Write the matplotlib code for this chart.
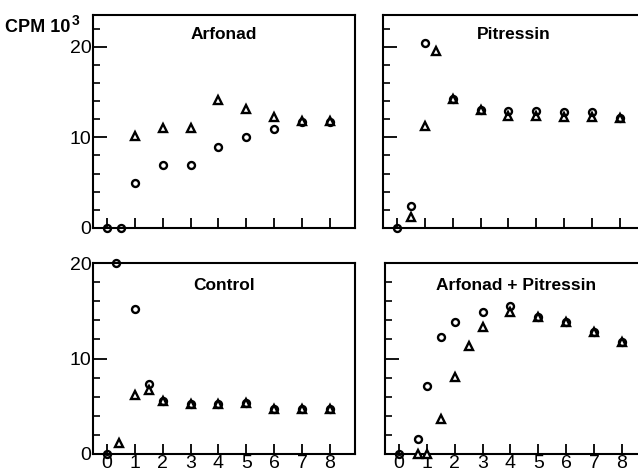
import matplotlib
matplotlib.use("Agg")
import matplotlib.pyplot as plt
from matplotlib.ticker import MultipleLocator

# Arfonad
arf_circ_x = [0, 0.5, 1, 2, 3, 4, 5, 6, 7, 8]
arf_circ_y = [0, 0, 5.0, 7.0, 7.0, 8.9, 10.0, 10.9, 11.7, 11.7]
arf_tri_x = [1, 2, 3, 4, 5, 6, 7, 8]
arf_tri_y = [10.1, 11.0, 11.0, 14.1, 13.1, 12.3, 11.8, 11.8]

# Pitressin
pit_circ_x = [0, 0.5, 1, 2, 3, 4, 5, 6, 7, 8]
pit_circ_y = [0, 2.4, 20.4, 14.2, 13.0, 12.9, 12.9, 12.8, 12.8, 12.1]
pit_tri_x = [0.5, 1, 1.4, 2, 3, 4, 5, 6, 7, 8]
pit_tri_y = [1.2, 11.3, 19.5, 14.2, 13.0, 12.4, 12.4, 12.3, 12.3, 12.1]

# Control
con_circ_x = [0, 0.33, 1, 1.5, 2, 3, 4, 5, 6, 7, 8]
con_circ_y = [0, 20.0, 15.2, 7.3, 5.6, 5.2, 5.2, 5.3, 4.7, 4.7, 4.7]
con_tri_x = [0.45, 1, 1.5, 2, 3, 4, 5, 6, 7, 8]
con_tri_y = [1.2, 6.2, 6.7, 5.6, 5.2, 5.2, 5.3, 4.7, 4.7, 4.7]

# Arfonad + Pitressin
ap_circ_x = [0, 0.7, 1, 1.5, 2, 3, 4, 5, 6, 7, 8]
ap_circ_y = [0, 1.6, 7.1, 12.2, 13.8, 14.9, 15.5, 14.3, 13.8, 12.8, 11.7]
ap_tri_x = [0.7, 1, 1.5, 2, 2.5, 3, 4, 5, 6, 7, 8]
ap_tri_y = [0, 0, 3.7, 8.1, 11.3, 13.3, 14.9, 14.3, 13.8, 12.8, 11.7]

x_labels = ["0", "1", "2", "3", "4", "5", "6", "7", "8"]

plt.rcParams['font.family'] = ['Liberation Sans', 'DejaVu Sans']

W, H = 638, 475
fig = plt.figure(figsize=(6.38, 4.75), dpi=100)

def make_ax(left, top, width, height):
    return fig.add_axes([left / W, (H - top - height) / H, width / W, height / H])

panels = [
    (make_ax(93, 15, 262, 213), arf_circ_x, arf_circ_y, arf_tri_x, arf_tri_y,
     "Arfonad", 23.5, True, False),
    (make_ax(383, 15, 262, 213), pit_circ_x, pit_circ_y, pit_tri_x, pit_tri_y,
     "Pitressin", 23.5, False, False),
    (make_ax(93, 263, 262, 191), con_circ_x, con_circ_y, con_tri_x, con_tri_y,
     "Control", 20, True, True),
    (make_ax(385, 263, 262, 191), ap_circ_x, ap_circ_y, ap_tri_x, ap_tri_y,
     "Arfonad + Pitressin", 20, False, True),
]

for ax, cx, cy, tx, ty, title, ytop, ylab, xlab in panels:
    ax.plot(tx, ty, linestyle="none", marker="^", markersize=6,
            markerfacecolor="white", markeredgecolor="black",
            markeredgewidth=1.7, clip_on=False, zorder=3)
    ax.plot(cx, cy, linestyle="none", marker="o", markersize=5,
            markerfacecolor="none", markeredgecolor="black",
            markeredgewidth=1.7, clip_on=False, zorder=4)
    ax.set_xlim(-0.5, 8.9)
    ax.set_ylim(0, ytop)
    for s in ax.spines.values():
        s.set_linewidth(1.5)
    ax.set_xticks(range(9))
    ax.yaxis.set_major_locator(MultipleLocator(10))
    ax.yaxis.set_minor_locator(MultipleLocator(2))
    ax.tick_params(axis="y", which="major", direction="in", length=10, width=1.3,
                   labelsize=14, pad=1, labelleft=ylab)
    ax.tick_params(axis="y", which="minor", direction="in", length=5, width=1.2)
    ax.tick_params(axis="x", direction="in", length=7, width=1.3,
                   labelsize=14, pad=1, labelbottom=xlab)
    if xlab:
        ax.set_xticklabels(x_labels)
    ax.text(0.5, 0.91 if ytop > 20 else 0.88, title, transform=ax.transAxes,
            ha="center", va="center", fontsize=12.5, fontweight="semibold")

cpm = fig.text(5 / W, 1 - 27 / H, "CPM 10", ha="left", va="center",
               fontsize=13, fontweight="semibold")
fig.text(72 / W, 1 - 21 / H, "3", ha="left", va="center",
         fontsize=10, fontweight="semibold")

fig.savefig("out.png", dpi=100)
